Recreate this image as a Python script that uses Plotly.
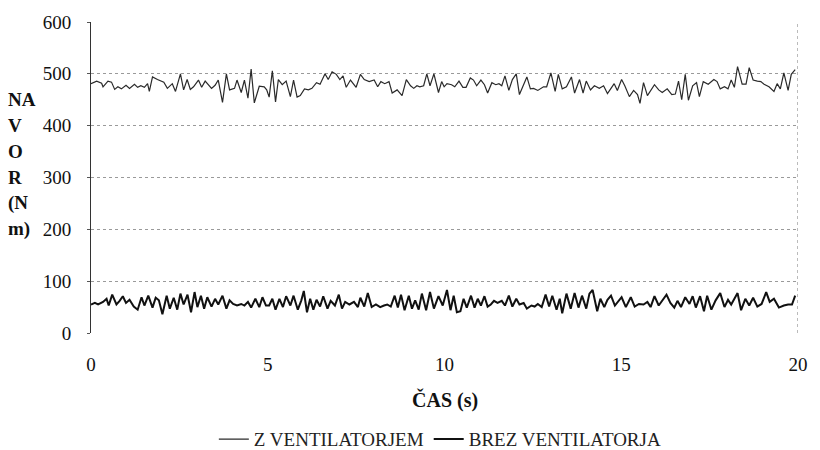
import plotly.graph_objects as go

# Z VENTILATORJEM (with fan)
t_z = [0.00, 0.16, 0.30, 0.34, 0.48, 0.58, 0.67, 0.76, 0.86, 0.99, 1.09, 1.23, 1.32, 1.41, 1.51, 1.60, 1.65, 1.74, 1.88, 2.06,
       2.16, 2.30, 2.39, 2.53, 2.62, 2.72, 2.81, 2.90, 3.04, 3.13, 3.23, 3.32, 3.41, 3.51, 3.60, 3.72, 3.83, 3.92, 4.06, 4.13,
       4.25, 4.34, 4.44, 4.53, 4.62, 4.76, 4.90, 4.97,
       5.04, 5.13, 5.22, 5.30, 5.41, 5.52, 5.64, 5.73, 5.83, 5.92, 6.04, 6.15, 6.25, 6.38, 6.48, 6.62, 6.71, 6.82, 6.94, 7.04,
       7.13, 7.22, 7.34, 7.50, 7.62, 7.73, 7.87, 8.01, 8.11, 8.20, 8.31, 8.43, 8.52, 8.66, 8.80, 8.92, 9.04, 9.13, 9.22, 9.30,
       9.41, 9.50, 9.59, 9.70, 9.83, 9.92, 9.99,
       10.07, 10.20, 10.29, 10.41, 10.52, 10.61, 10.73, 10.82, 10.91, 11.03, 11.13, 11.22, 11.34, 11.45, 11.54, 11.62, 11.71,
       11.82, 11.92, 12.03, 12.12, 12.24, 12.33, 12.43, 12.52, 12.64, 12.80, 12.89, 13.01, 13.13, 13.22, 13.33, 13.45, 13.59,
       13.68, 13.82, 13.92, 14.01, 14.13, 14.24, 14.38, 14.50, 14.61, 14.71, 14.80, 14.89, 15.01,
       15.10, 15.23, 15.35, 15.46, 15.53, 15.63, 15.74, 15.85, 15.94, 16.06, 16.16, 16.30, 16.43, 16.53, 16.62, 16.71, 16.81,
       16.90, 17.02, 17.13, 17.21, 17.32, 17.46, 17.62, 17.71, 17.80, 17.92, 18.02, 18.11, 18.20, 18.29, 18.42, 18.53, 18.62,
       18.73, 18.85, 18.95, 19.04, 19.18, 19.32, 19.41, 19.50, 19.60, 19.72, 19.81, 19.92]
z_ventilatorjem = [481, 486, 482, 475, 486, 484, 470, 475, 471, 478, 472, 480, 474, 477, 474, 481, 466, 494, 489, 484,
                   472, 481, 466, 500, 469, 489, 470, 475, 488, 474, 486, 478, 472, 478, 488, 445, 500, 469, 472, 488,
                   464, 488, 453, 509, 444, 476, 475, 469,
                   455, 506, 446, 489, 479, 486, 456, 488, 455, 458, 471, 469, 472, 483, 480, 500, 489, 504, 499, 489,
                   496, 474, 488, 474, 499, 489, 485, 488, 475, 485, 481, 485, 463, 469, 458, 489, 477, 472, 477, 475,
                   477, 500, 477, 500, 464, 485, 475,
                   481, 479, 475, 486, 474, 474, 492, 488, 477, 488, 479, 463, 483, 479, 481, 477, 496,
                   468, 489, 500, 460, 481, 494, 471, 472, 468, 475, 475, 502, 466, 499, 471, 475, 494,
                   463, 489, 463, 486, 469, 477, 472, 477, 462, 472, 481, 468, 489,
                   477, 456, 468, 460, 443, 483, 458, 469, 479, 469, 464, 471, 460, 461, 486, 450, 499,
                   449, 477, 483, 456, 485, 480, 489, 485, 471, 475, 471, 488, 474, 514, 480, 480, 512,
                   488, 486, 485, 480, 475, 466, 481, 471, 502, 468, 499, 508]

# BREZ VENTILATORJA (without fan)
t_b = [0.00, 0.11, 0.20, 0.34, 0.44, 0.50, 0.60, 0.72, 0.81, 0.90, 0.99, 1.09, 1.21, 1.32, 1.43, 1.51, 1.62, 1.74, 1.83, 1.92,
       2.02, 2.14, 2.23, 2.34, 2.44, 2.53, 2.62, 2.73, 2.83, 2.93, 3.01, 3.11, 3.20, 3.29, 3.41, 3.51, 3.60, 3.72, 3.83, 3.92,
       4.02, 4.13, 4.25, 4.34, 4.44, 4.53, 4.65, 4.76, 4.85, 4.95,
       5.04, 5.13, 5.22, 5.33, 5.43, 5.52, 5.64, 5.73, 5.85, 5.95, 6.02, 6.11, 6.20, 6.29, 6.38, 6.48, 6.57, 6.69, 6.78, 6.90,
       7.01, 7.10, 7.19, 7.31, 7.44, 7.55, 7.62, 7.73, 7.83, 7.94, 8.06, 8.18, 8.29, 8.38, 8.48, 8.59, 8.68, 8.77, 8.87, 8.99,
       9.08, 9.17, 9.27, 9.36, 9.48, 9.59, 9.70, 9.83, 9.95,
       10.07, 10.17, 10.26, 10.35, 10.45, 10.54, 10.63, 10.75, 10.85, 10.94, 11.03, 11.13, 11.22, 11.31, 11.40, 11.50, 11.62,
       11.71, 11.82, 11.92, 12.03, 12.12, 12.24, 12.33, 12.46, 12.55, 12.64, 12.75, 12.86, 12.96, 13.05, 13.17, 13.26, 13.33,
       13.45, 13.57, 13.68, 13.79, 13.89, 14.01, 14.10, 14.19, 14.32, 14.41, 14.52, 14.61, 14.71, 14.82, 14.94,
       15.01, 15.13, 15.27, 15.38, 15.50, 15.63, 15.74, 15.83, 15.94, 16.06, 16.16, 16.28, 16.39, 16.50, 16.59, 16.69, 16.81,
       16.93, 17.02, 17.11, 17.23, 17.34, 17.43, 17.55, 17.67, 17.80, 17.92, 18.02, 18.11, 18.20, 18.29, 18.39, 18.51, 18.62,
       18.73, 18.85, 18.97, 19.10, 19.20, 19.32, 19.46, 19.60, 19.72, 19.83, 19.92]
brez_ventilatorja = [55, 58, 55, 60, 66, 53, 74, 55, 62, 71, 58, 64, 51, 45, 69, 53, 72, 49, 68, 63,
                     36, 72, 47, 68, 45, 76, 55, 74, 40, 79, 50, 72, 47, 69, 51, 66, 55, 72, 47, 63,
                     56, 53, 56, 53, 60, 49, 66, 50, 69, 53,
                     53, 66, 45, 66, 50, 71, 53, 72, 45, 63, 81, 40, 66, 45, 64, 51, 71, 47, 62, 53,
                     74, 47, 60, 55, 60, 50, 68, 51, 77, 50, 55, 50, 53, 55, 51, 72, 49, 74, 44, 72,
                     47, 63, 45, 76, 44, 79, 47, 71, 53,
                     83, 44, 72, 40, 42, 66, 49, 72, 49, 66, 53, 71, 51, 55, 62, 58, 62,
                     53, 72, 51, 66, 55, 58, 47, 53, 51, 56, 50, 74, 51, 72, 45, 66, 38,
                     76, 47, 77, 49, 72, 47, 76, 83, 42, 66, 50, 64, 72, 53, 64,
                     69, 50, 69, 51, 56, 55, 60, 50, 71, 53, 62, 74, 58, 49, 62, 50, 69,
                     56, 71, 49, 71, 42, 72, 45, 63, 77, 50, 64, 55, 66, 77, 44, 66, 53,
                     68, 51, 56, 79, 60, 66, 49, 53, 55, 55, 72]

x_ticks = [0, 5, 10, 15, 20]
y_ticks = [0, 100, 200, 300, 400, 500, 600]
y_title_lines = ["NA", "V", "O", "R", "(N", "m)"]
y_title_levels = [450, 400, 350, 300, 250, 200]

FONT = "Times New Roman, Liberation Serif, DejaVu Serif, serif"

fig = go.Figure()
fig.add_trace(go.Scatter(x=t_z, y=z_ventilatorjem, mode="lines", name="Z VENTILATORJEM",
                         line=dict(color="#2a2a2a", width=1.2)))
fig.add_trace(go.Scatter(x=t_b, y=brez_ventilatorja, mode="lines", name="BREZ VENTILATORJA",
                         line=dict(color="#111111", width=2)))

annotations = [
    dict(text="<b>%s</b>" % txt, xref="paper", yref="y", x=-0.12, y=lvl,
         xanchor="left", yanchor="middle", align="left", showarrow=False,
         font=dict(family=FONT, size=19, color="#111"))
    for txt, lvl in zip(y_title_lines, y_title_levels)
]
annotations.append(dict(text="<b>ČAS (s)</b>", xref="paper", yref="paper", x=0.5, y=-0.214,
                        xanchor="center", yanchor="middle", showarrow=False,
                        font=dict(family=FONT, size=20, color="#111")))

fig.update_layout(
    width=820, height=450,
    margin=dict(l=91, r=12, t=20, b=117),
    paper_bgcolor="white", plot_bgcolor="white",
    font=dict(family=FONT, size=19, color="#111"),
    showlegend=True,
    legend=dict(orientation="h", xref="container", yref="container", x=0.537, xanchor="center",
                y=0.024, yanchor="middle",
                font=dict(family=FONT, size=19, color="#222"), itemwidth=30,
                bgcolor="rgba(0,0,0,0)"),
    xaxis=dict(range=[0, 20], tickvals=x_ticks, ticktext=[str(v) for v in x_ticks],
               showgrid=False, zeroline=False, showline=False, ticks="",
               ticklabelstandoff=18, tickfont=dict(family=FONT, size=19, color="#111")),
    yaxis=dict(range=[0, 600], tickvals=y_ticks, ticktext=[str(v) for v in y_ticks],
               showgrid=True, gridcolor="#9a9a9a", griddash="dot", gridwidth=1,
               zeroline=False, showline=True, linecolor="#333", linewidth=1,
               ticks="outside", ticklen=3, tickcolor="#555",
               ticklabelstandoff=12, tickfont=dict(family=FONT, size=19, color="#111")),
    annotations=annotations,
    shapes=[
        dict(type="line", xref="x", yref="paper", x0=20, x1=20, y0=0, y1=1,
             line=dict(color="#777", width=1, dash="dot")),
    ],
)

fig.write_html("out.html", config={"displayModeBar": False},
               post_script="document.body.style.margin='0px';document.body.style.overflow='hidden';")
